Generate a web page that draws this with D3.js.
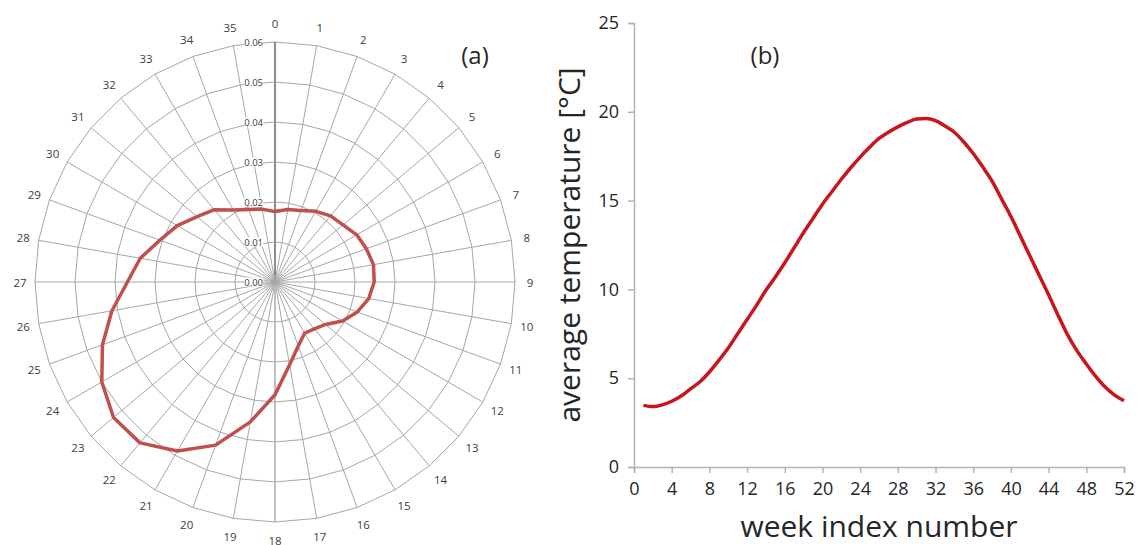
<!DOCTYPE html>
<head>
  <meta charset="utf-8">
  <script src="https://d3js.org/d3.v7.min.js"></script>
  <style>
    body { margin: 0; background: #fff; }
    svg text { font-family: "Open Sans", sans-serif; fill: #262626; }
  </style>
</head>
<body>
<script>
  // (a) radar data: 36 directions, one value each
  var sectors = d3.range(36);
  var sectorValues = [0.0176, 0.0184, 0.0190, 0.0204, 0.0216, 0.0222, 0.0236, 0.0243, 0.0250,
    0.0248, 0.0238, 0.0219, 0.0195, 0.0165, 0.0153, 0.0148, 0.0170, 0.0210,
    0.0282, 0.0355, 0.0434, 0.0488, 0.0525, 0.0527, 0.0500, 0.0459, 0.0414,
    0.0369, 0.0342, 0.0306, 0.0282, 0.0254, 0.0236, 0.0208, 0.0193, 0.0185];
  var ringTicks = [0, 0.01, 0.02, 0.03, 0.04, 0.05, 0.06];

  // (b) weekly average temperature
  var weeks = d3.range(1, 53);
  var temps = [3.47, 3.40, 3.50, 3.70, 4.00, 4.40, 4.80, 5.35, 6.00, 6.70, 7.50, 8.30, 9.10,
    9.95, 10.7, 11.5, 12.35, 13.2, 14.0, 14.8, 15.5, 16.2, 16.85, 17.45, 18.0, 18.5,
    18.85, 19.15, 19.4, 19.6, 19.62, 19.5, 19.2, 18.85, 18.3, 17.65, 16.9, 16.1, 15.1,
    14.1, 13.0, 11.9, 10.8, 9.7, 8.55, 7.45, 6.55, 5.8, 5.1, 4.5, 4.05, 3.73];
  var weekTicks = d3.range(0, 53, 4);
  var tempTicks = [0, 5, 10, 15, 20, 25];

  var svg = d3.select("body").append("svg")
    .attr("width", 1139).attr("height", 545);

  // ---------- (a) polar / radar ----------
  var cx = 275, cy = 282, R = 240;
  var rScale = d3.scaleLinear().domain([0, 0.06]).range([0, R]);
  var aScale = d3.scaleLinear().domain([0, 36]).range([0, 2 * Math.PI]);

  var polar = svg.append("g").attr("transform", "translate(" + cx + "," + cy + ")");

  var ringLine = d3.lineRadial()
    .angle(function(d) { return aScale(d); })
    .curve(d3.curveLinearClosed);

  // rings
  ringTicks.slice(1).forEach(function(t) {
    polar.append("path")
      .attr("d", ringLine.radius(rScale(t))(sectors))
      .attr("fill", "none")
      .attr("stroke", "#a6a6a6")
      .attr("stroke-width", 1);
  });

  // spokes
  sectors.forEach(function(s) {
    var a = aScale(s);
    polar.append("line")
      .attr("x1", 0).attr("y1", 0)
      .attr("x2", R * Math.sin(a)).attr("y2", -R * Math.cos(a))
      .attr("stroke", s === 0 ? "#8c8c8c" : (s === 18 ? "#bfbfbf" : "#a6a6a6"))
      .attr("stroke-width", s === 0 ? 2 : (s === 18 ? 2 : 1));
  });

  // category labels
  sectors.forEach(function(s) {
    var a = aScale(s);
    var rr = 255 + 3.5 * Math.abs(Math.cos(a));
    polar.append("text")
      .attr("x", rr * Math.sin(a))
      .attr("y", -rr * Math.cos(a))
      .attr("text-anchor", "middle")
      .attr("dominant-baseline", "central")
      .style("font-size", "11.5px")
      .style("fill", "#404040")
      .text(s);
  });

  // value labels with white backing
  ringTicks.forEach(function(t) {
    var g = polar.append("g");
    var txt = g.append("text")
      .attr("x", -12)
      .attr("y", -rScale(t))
      .attr("text-anchor", "end")
      .attr("dominant-baseline", "central")
      .style("font-size", "9.5px")
      .style("fill", "#404040")
      .text(d3.format(".2f")(t));
    var bb = txt.node().getBBox();
    g.insert("rect", "text")
      .attr("x", bb.x).attr("y", bb.y + 2)
      .attr("width", bb.width).attr("height", bb.height - 4)
      .attr("fill", "#fff");
  });

  // data line
  var dataLine = d3.lineRadial()
    .angle(function(d, i) { return aScale(i); })
    .radius(function(d) { return rScale(d); })
    .curve(d3.curveLinearClosed);

  polar.append("path")
    .attr("d", dataLine(sectorValues))
    .attr("fill", "none")
    .attr("stroke", "#c0504d")
    .attr("stroke-width", 3.5)
    .attr("stroke-linejoin", "round");

  svg.append("text")
    .attr("x", 475).attr("y", 64)
    .attr("text-anchor", "middle")
    .style("font-size", "24px")
    .text("(a)");

  // ---------- (b) line chart ----------
  var x = d3.scaleLinear().domain([0, 52]).range([634, 1124]);
  var y = d3.scaleLinear().domain([0, 25]).range([467, 23]);

  var xAxis = d3.axisBottom(x).tickValues(weekTicks).tickSize(6).tickPadding(9);
  var yAxis = d3.axisLeft(y).tickValues(tempTicks).tickSize(6).tickPadding(9);

  var gx = svg.append("g").attr("transform", "translate(0,467)").call(xAxis);
  var gy = svg.append("g").attr("transform", "translate(634,0)").call(yAxis);

  [gx, gy].forEach(function(g) {
    g.select(".domain").attr("stroke", "#b3b3b3").attr("stroke-width", 1.5);
    g.selectAll(".tick line").attr("stroke", "#b3b3b3").attr("stroke-width", 1.5);
    g.selectAll(".tick text")
      .style("font-family", "'Open Sans', sans-serif")
      .style("font-size", "18px")
      .style("fill", "#262626");
  });

  var tempLine = d3.line()
    .x(function(d, i) { return x(weeks[i]); })
    .y(function(d) { return y(d); })
    .curve(d3.curveMonotoneX);

  svg.append("path")
    .attr("d", tempLine(temps))
    .attr("fill", "none")
    .attr("stroke", "#c8161d")
    .attr("stroke-width", 3.5);

  svg.append("text")
    .attr("x", 765).attr("y", 64)
    .attr("text-anchor", "middle")
    .style("font-size", "24px")
    .text("(b)");

  svg.append("text")
    .attr("x", 879).attr("y", 537)
    .attr("text-anchor", "middle")
    .style("font-size", "30px")
    .text("week index number");

  svg.append("text")
    .attr("transform", "translate(580,245) rotate(-90)")
    .attr("text-anchor", "middle")
    .style("font-size", "30px")
    .text("average temperature [°C]");
</script>
</body>
